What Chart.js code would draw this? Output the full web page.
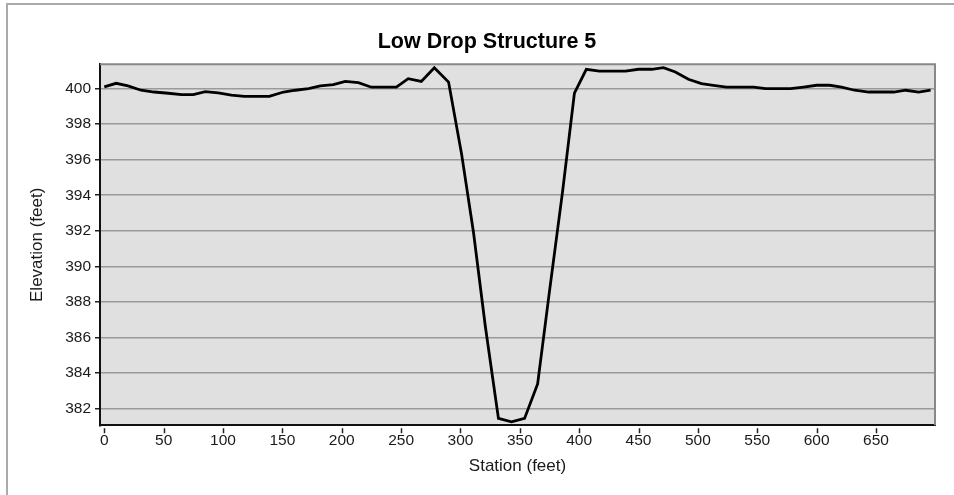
<!DOCTYPE html>
<html>
<head>
<meta charset="utf-8">
<script src="https://cdn.jsdelivr.net/npm/chart.js@4/dist/chart.umd.min.js"></script>
<style>
  html, body { margin: 0; padding: 0; background: #fff; }
  #wrap { width: 954px; height: 495px; }
</style>
</head>
<body>
<div id="wrap"><canvas id="profile" width="954" height="495"></canvas></div>
<script>
// cross-section survey: station along the line vs. ground elevation
const stations = [0, 10, 20, 31, 42, 54, 65, 75, 85, 96, 107, 118, 130, 139, 151, 161, 172, 182, 193, 203,
  214, 225, 236, 246, 256, 267, 278, 290, 301, 311, 321, 332, 343, 354, 365, 375, 386, 396, 406, 417,
  429, 439, 450, 461, 471, 481, 492, 503, 513, 524, 535, 547, 557, 568, 578, 589, 600, 611, 621, 632,
  644, 655, 665, 675, 686, 696];
const elevations = [400.1, 400.3, 400.15, 399.91, 399.81, 399.74, 399.66, 399.66, 399.83, 399.76, 399.64, 399.57, 399.57, 399.57, 399.81, 399.91, 400.0, 400.15, 400.23, 400.41,
  400.34, 400.08, 400.08, 400.08, 400.56, 400.41, 401.18, 400.37, 396.3, 391.9, 386.6, 381.44, 381.25, 381.44, 383.38, 388.6, 394.2, 399.75, 401.09, 400.99,
  400.99, 400.99, 401.09, 401.09, 401.18, 400.94, 400.53, 400.28, 400.19, 400.09, 400.09, 400.09, 400.0, 400.0, 400.0, 400.09, 400.19, 400.19, 400.09, 399.91,
  399.81, 399.81, 399.81, 399.91, 399.81, 399.91];

const xRange = [-3.6, 699.7];
const yRange = [381.05, 401.37];
const xStep = 50;
const yStep = 2;

const FONT = '"Liberation Sans", Arial, sans-serif';
const INK = '#1a1a1a';

// frame, panel fill, panel top/right edges and the detached x tick marks
const panelDecor = {
  id: 'panelDecor',
  beforeDraw(chart) {
    const { ctx, chartArea: a } = chart;
    ctx.save();
    ctx.fillStyle = '#e0e0e0';
    ctx.fillRect(a.left, a.top, a.right - a.left, a.bottom - a.top);
    ctx.strokeStyle = '#aaaaaa';
    ctx.lineWidth = 2;
    ctx.beginPath();
    ctx.moveTo(7, chart.height);
    ctx.lineTo(7, 4);
    ctx.lineTo(chart.width, 4);
    ctx.stroke();
    ctx.restore();
  },
  afterDraw(chart) {
    const { ctx, chartArea: a } = chart;
    const xs = chart.scales.x;
    ctx.save();
    ctx.strokeStyle = '#888888';
    ctx.lineWidth = 2;
    ctx.beginPath();
    ctx.moveTo(a.left, a.top);
    ctx.lineTo(a.right, a.top);
    ctx.lineTo(a.right, a.bottom);
    ctx.stroke();
    ctx.strokeStyle = '#222';
    ctx.lineWidth = 1.5;
    ctx.beginPath();
    xs.ticks.forEach(t => {
      const px = Math.round(xs.getPixelForValue(t.value)) + 0.5;
      ctx.moveTo(px, a.bottom + 3);
      ctx.lineTo(px, a.bottom + 8);
    });
    ctx.stroke();
    ctx.restore();
  }
};

new Chart(document.getElementById('profile'), {
  type: 'scatter',
  data: {
    datasets: [{
      data: stations.map((s, i) => ({ x: s, y: elevations[i] })),
      showLine: true,
      borderColor: '#000',
      borderWidth: 2.8,
      pointRadius: 0,
      tension: 0
    }]
  },
  options: {
    responsive: false,
    animation: false,
    layout: { padding: { left: 20, right: 0, top: 0, bottom: 0 } },
    plugins: {
      legend: { display: false },
      tooltip: { enabled: false },
      title: {
        display: true,
        text: 'Low Drop Structure 5',
        color: '#000',
        font: { family: FONT, size: 21.5, weight: 'bold' },
        padding: { top: 29.2, bottom: 9.3 }
      }
    },
    scales: {
      x: {
        type: 'linear',
        min: xRange[0],
        max: xRange[1],
        afterFit(scale) { scale.height = 69.7; },
        ticks: { stepSize: xStep, includeBounds: false, padding: 6, color: INK, font: { family: FONT, size: 15.5 } },
        grid: { display: false, drawTicks: false },
        border: { color: '#111', width: 2 },
        title: { display: true, text: 'Station (feet)', color: INK, font: { family: FONT, size: 17 }, padding: { top: 0, bottom: 18.8 } }
      },
      y: {
        min: yRange[0],
        max: yRange[1],
        afterFit(scale) { scale.width = 80; },
        ticks: { stepSize: yStep, includeBounds: false, padding: 4, color: INK, font: { family: FONT, size: 15.5 } },
        grid: { color: '#9a9a9a', lineWidth: 1.5, tickLength: 5, tickColor: '#222', tickWidth: 1.5 },
        border: { color: '#111', width: 2 },
        title: { display: true, text: 'Elevation (feet)', color: INK, font: { family: FONT, size: 17 }, padding: { top: 6.8, bottom: 0 } }
      },
      // empty right-hand strip that keeps the panel clear of the canvas edge
      yRight: {
        position: 'right',
        min: yRange[0],
        max: yRange[1],
        afterFit(scale) { scale.width = 19; },
        ticks: { display: false },
        grid: { display: false, drawTicks: false },
        border: { display: false }
      }
    }
  },
  plugins: [panelDecor]
});
</script>
</body>
</html>
